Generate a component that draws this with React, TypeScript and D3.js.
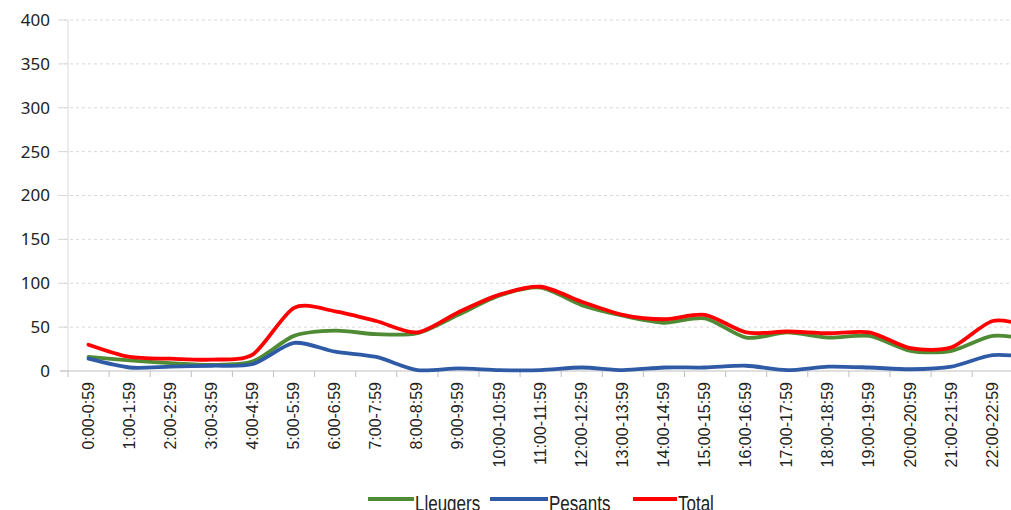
import React from "react";
import * as d3 from "d3";

const categories = [
  "0:00-0:59", "1:00-1:59", "2:00-2:59", "3:00-3:59", "4:00-4:59", "5:00-5:59",
  "6:00-6:59", "7:00-7:59", "8:00-8:59", "9:00-9:59", "10:00-10:59", "11:00-11:59",
  "12:00-12:59", "13:00-13:59", "14:00-14:59", "15:00-15:59", "16:00-16:59", "17:00-17:59",
  "18:00-18:59", "19:00-19:59", "20:00-20:59", "21:00-21:59", "22:00-22:59", "23:00-23:59",
];
const lleugers = [16, 12, 9, 7, 11, 40, 46, 42, 43, 64, 86, 95, 75, 63, 55, 60, 38, 44, 38, 40, 23, 23, 40, 35];
const pesants = [14, 4, 5, 6, 8, 32, 22, 16, 1, 3, 1, 1, 4, 1, 4, 4, 6, 1, 5, 4, 2, 5, 18, 15];
const total = [30, 16, 14, 13, 19, 72, 68, 57, 44, 67, 87, 96, 79, 64, 59, 64, 44, 45, 43, 44, 26, 27, 57, 50];
const yTicks = [0, 50, 100, 150, 200, 250, 300, 350, 400];

const series = [
  { name: "Lleugers", values: lleugers, color: "#4f8a34" },
  { name: "Pesants", values: pesants, color: "#2f5ba6" },
  { name: "Total", values: total, color: "#ff0000" },
];

export default function App() {
  const W = 1011, H = 510;
  const left = 68, bandW = 41.1;
  const x = d3.scaleBand<string>().domain(categories).range([left, left + bandW * categories.length]);
  const y = d3.scaleLinear().domain([0, 400]).range([371, 20]);
  const cx = (i: number) => (x(categories[i]) as number) + x.bandwidth() / 2;
  const line = d3.line<number>().x((_, i) => cx(i)).y((v) => y(v)).curve(d3.curveCardinal.tension(0.2));

  const legend = [
    { name: "Lleugers", color: "#4f8a34", x1: 368, x2: 414, tx: 415 },
    { name: "Pesants", color: "#2f5ba6", x1: 490, x2: 548, tx: 549 },
    { name: "Total", color: "#ff0000", x1: 633, x2: 677, tx: 678 },
  ];

  return (
    <svg width={W} height={H} style={{ position: "absolute", left: 0, top: 0, background: "#fff" }}>
      <rect x={0} y={0} width={W} height={H} fill="#fff" />
      {yTicks.map((t) => (
        <g key={t}>
          {t > 0 && (
            <line x1={58} x2={W} y1={y(t)} y2={y(t)} stroke="#d9d9d9" strokeWidth={1} strokeDasharray="3,3" />
          )}
          <line x1={60} x2={68} y1={y(t)} y2={y(t)} stroke="#d9d9d9" strokeWidth={1} />
          <text x={50} y={y(t)} dy="0.35em" textAnchor="end" fontFamily="'Noto Sans', sans-serif" fontSize={17} fill="#222">
            {t}
          </text>
        </g>
      ))}
      <line x1={68} x2={68} y1={20} y2={371} stroke="#d9d9d9" strokeWidth={1} />
      <line x1={60} x2={W} y1={371} y2={371} stroke="#bfbfbf" strokeWidth={1} />
      {categories.map((c, i) => (
        <line key={"t" + c} x1={left + bandW * i} x2={left + bandW * i} y1={371} y2={377} stroke="#bfbfbf" strokeWidth={1} />
      ))}
      {categories.map((c, i) =>
        cx(i) < W ? (
          <text
            key={c}
            transform={`translate(${cx(i) + 5},382) rotate(-90)`}
            textAnchor="end"
            fontFamily="'Liberation Sans', Arial, sans-serif"
            fontSize={16}
            fill="#222"
          >
            {c}
          </text>
        ) : null
      )}
      {series.map((s) => (
        <path key={s.name} d={line(s.values) || ""} fill="none" stroke={s.color} strokeWidth={3.8} strokeLinejoin="round" strokeLinecap="round" />
      ))}
      {legend.map((l) => (
        <g key={l.name}>
          <line x1={l.x1} x2={l.x2} y1={499} y2={499} stroke={l.color} strokeWidth={4} />
          <text
            transform={`translate(${l.tx},511) scale(1,1.3)`}
            fontFamily="'Liberation Sans', Arial, sans-serif"
            fontSize={17}
            fill="#222"
          >
            {l.name}
          </text>
        </g>
      ))}
    </svg>
  );
}
